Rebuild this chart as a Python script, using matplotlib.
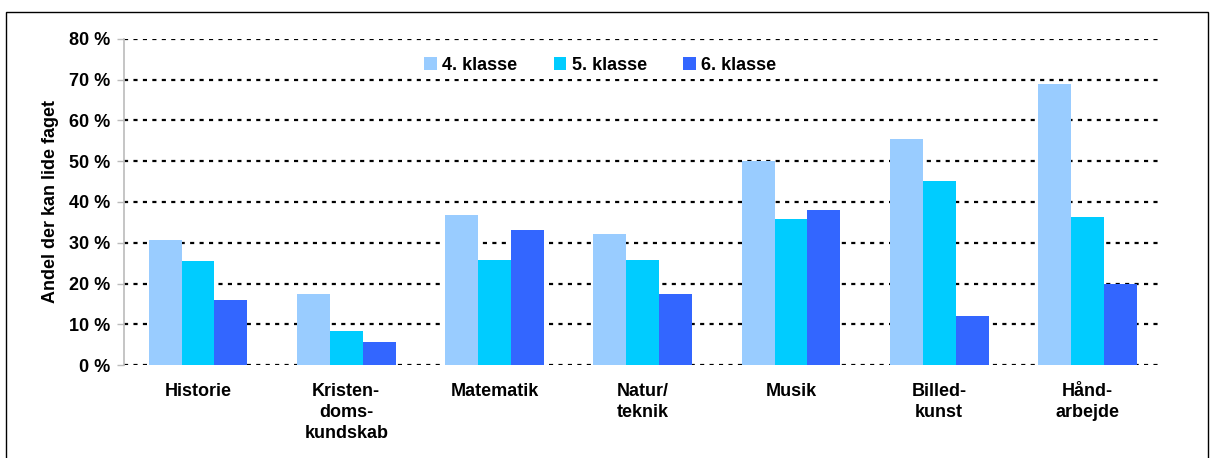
import numpy as np
import matplotlib.pyplot as plt
from matplotlib.patches import Rectangle

plt.rcParams['font.family'] = ['Liberation Sans', 'DejaVu Sans']

fag = ['Historie', 'Kristen-\ndoms-\nkundskab', 'Matematik', 'Natur/\nteknik',
       'Musik', 'Billed-\nkunst', 'Hånd-\narbejde']
serier = ['4. klasse', '5. klasse', '6. klasse']
klasse4 = [30.7, 17.4, 36.8, 32.1, 50.0, 55.5, 69.0]
klasse5 = [25.5, 8.3, 25.8, 25.8, 35.8, 45.2, 36.3]
klasse6 = [16.0, 5.6, 33.1, 17.4, 38.0, 12.0, 19.9]
farver = ['#99CCFF', '#00CCFF', '#3366FF']

fs = 13

fig = plt.figure(figsize=(12.15, 4.58), dpi=100)
ax = fig.add_axes([0.102, 0.203, 0.854, 0.712])

# ramme rundt om figuren
fig.patches.append(Rectangle((6/1215, -0.01), 1202/1215, 1 - 12/458 + 0.01,
                             transform=fig.transFigure, fill=False,
                             edgecolor='black', linewidth=1))

x = np.arange(len(fag))
b = 0.222
for i, (data, f, navn) in enumerate(zip([klasse4, klasse5, klasse6], farver, serier)):
    ax.bar(x + (i - 1) * b, data, width=b, color=f, label=navn, zorder=3)

ax.set_xlim(-0.5, len(fag) - 0.5)
ax.set_ylim(0, 80)
ax.set_yticks(np.arange(0, 81, 10))
ax.set_yticklabels([f'{v} %' for v in range(0, 81, 10)], fontsize=fs, fontweight='bold')
ax.set_xticks(x)
ax.set_xticklabels(fag, fontsize=fs, fontweight='bold', linespacing=1.3)
ax.tick_params(axis='x', length=0, pad=13)
ax.tick_params(axis='y', length=5, color='#BBBBBB', width=1, pad=5)
ax.yaxis.grid(True, color='black', linestyle=(0, (1.85, 2.4)), linewidth=1.6, zorder=1)
ax.set_axisbelow(True)
for s in ['top', 'right', 'bottom']:
    ax.spines[s].set_visible(False)
ax.spines['left'].set_color('#BBBBBB')
ax.spines['left'].set_linewidth(1.2)

ax.set_ylabel('Andel der kan lide faget', fontsize=fs, fontweight='bold', labelpad=7)

ax.legend(loc='upper center', bbox_to_anchor=(0.459, 0.99), ncol=3, frameon=True,
          facecolor='white', edgecolor='none', framealpha=1,
          prop={'weight': 'bold', 'size': fs}, handlelength=0.7, handleheight=0.7,
          handletextpad=0.3, columnspacing=2.0, borderpad=0.3)

plt.savefig('out.png', dpi=100)
